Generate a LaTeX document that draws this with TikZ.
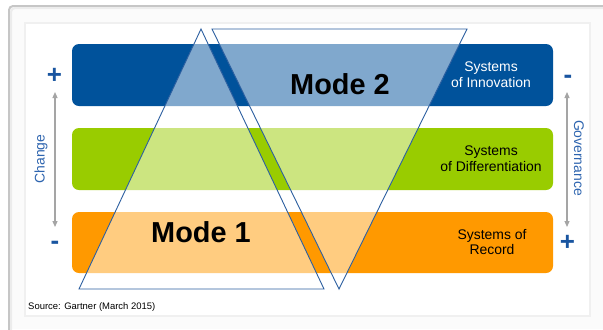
\documentclass[tikz,border=0pt]{standalone}
\usepackage{fontspec}
\setmainfont{Liberation Sans}
\usetikzlibrary{arrows.meta}
\definecolor{bandblue}{RGB}{0,82,155}
\definecolor{bandgreen}{RGB}{153,204,0}
\definecolor{bandorange}{RGB}{255,153,0}
\definecolor{edgeblue}{RGB}{44,95,160}
\definecolor{labelblue}{RGB}{45,100,175}
\definecolor{signblue}{RGB}{25,85,160}
\definecolor{arrowgray}{RGB}{165,165,165}
\begin{document}
\begin{tikzpicture}[x=1bp,y=-1bp,
  band/.style={rounded corners=7bp},
  modeshape/.style={fill=white,fill opacity=0.5,draw=edgeblue,draw opacity=1,line width=0.9bp,line join=miter},
  modelabel/.style={font=\fontsize{29}{34}\selectfont\bfseries,anchor=base,inner sep=0pt},
  syslabel/.style={font=\fontsize{14}{16}\selectfont,align=center,inner sep=0pt},
  sidelabel/.style={font=\fontsize{14}{16}\selectfont,text=labelblue,inner sep=0pt},
  sign/.style={font=\fontsize{26}{30}\selectfont\bfseries,text=signblue,anchor=base,inner sep=0pt},
  axisarrow/.style={arrowgray,line width=1.2bp,{Triangle[length=6bp,width=5bp]}-{Triangle[length=6bp,width=5bp]}},
]
\useasboundingbox (0,0) rectangle (603,329);

% slide frame with its soft shadow edge
\fill[gray!3] (9,6) rectangle (603,329);
\draw[gray!45,line width=2bp,rounded corners=4bp] (9,335) -- (9,6) -- (610,6);
\draw[gray!15,line width=2bp,rounded corners=4bp] (11,335) -- (11,8) -- (610,8);
\draw[gray!12,line width=1.5bp,fill=white] (25,23) rectangle (590,316);

% the three system bands
\fill[bandblue,band] (72,44) rectangle (553,106);
\fill[bandgreen,band] (72,128) rectangle (553,190);
\fill[bandorange,band] (72,212) rectangle (553,273);

% Mode 1 (upright) and Mode 2 (inverted) triangles
\draw[modeshape] (201,29) -- (324,289) -- (79,289) -- cycle;
\draw[modeshape] (212,29) -- (467,29) -- (339,289) -- cycle;

% mode titles
\node[modelabel] (mode2) at (340,94) {Mode 2};
\node[modelabel] (mode1) at (201,242) {Mode 1};

% band labels
\node[syslabel,text=white] (innov) at (491,75) {Systems\\of Innovation};
\node[syslabel] (diff) at (491,159) {Systems\\of Differentiation};
\node[syslabel] (record) at (492,242) {Systems of\\Record};

% change axis on the left
\coordinate (chgtop) at (55,92);
\coordinate (chgbot) at (55,227);
\draw[axisarrow] (chgtop) -- (chgbot);
\node[sidelabel,rotate=90] (change) at (41,159) {Change};
\node[sign] (plusL) at (54.5,83) {+};
\node[sign] (minusL) at (55,249) {-};

% governance axis on the right
\coordinate (govtop) at (567,92);
\coordinate (govbot) at (567,227);
\draw[axisarrow] (govtop) -- (govbot);
\node[sidelabel,rotate=-90] (gov) at (579,158) {Governance};
\node[sign] (minusR) at (568,83) {-};
\node[sign] (plusR) at (567.5,250) {+};

% source line
\node[anchor=base west,font=\fontsize{9.5}{11}\selectfont,inner sep=0pt] (source) at (28,309.5) {Source: Gartner (March 2015)};
\end{tikzpicture}
\end{document}
